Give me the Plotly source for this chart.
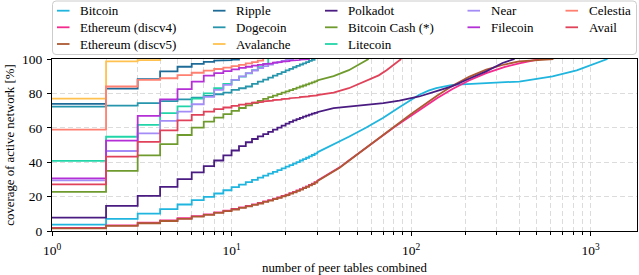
import plotly.graph_objects as go

# ---------------- data ----------------
names = ["Bitcoin", "Ethereum (discv4)", "Ethereum (discv5)", "Ripple", "Dogecoin",
         "Avalanche", "Polkadot", "Bitcoin Cash (*)", "Litecoin", "Near", "Filecoin",
         "Celestia", "Avail"]
colors = ["#1fb5de", "#f52a8e", "#ad5a33", "#1f6b98", "#2795ab", "#ffc14f", "#4a1c82",
          "#6f9b2e", "#22d5a8", "#a48cf6", "#b42fd6", "#ff7f70", "#e0425a"]
legend_columns = [[0, 1, 2], [3, 4, 5], [6, 7, 8], [9, 10], [11, 12]]

ints30 = list(range(1, 31))

bitcoin_x = ints30 + [36, 45, 56, 70, 86, 100, 111, 125, 138, 170, 211, 262, 400, 613, 836, 1025, 1240]
bitcoin_y = [3.7, 7.0, 10.1, 12.7, 15.4, 17.9, 19.8, 21.8, 23.7, 25.5, 27.0, 28.4, 29.7, 31.0,
             32.2, 33.3, 34.4, 35.4, 36.4, 37.4, 38.3, 39.2, 40.1, 41.0, 41.8, 42.6, 43.4, 44.2,
             45.0, 45.7,
             49.6, 54.8, 60.0, 65.8, 72.0, 76.5, 79.2, 81.6, 83.1, 85.0, 85.6, 86.0, 86.9, 89.9,
             93.4, 96.7, 100.0]

eth4_x = ints30 + [36, 40, 45, 50, 56, 63, 70, 80, 90, 100, 111, 140, 170, 210, 262, 330, 400,
                   450, 520]
eth4_y = [1.8, 3.3, 4.8, 6.1, 7.4, 8.6, 9.7, 10.8, 11.8, 12.8, 13.7, 14.6, 15.5, 16.3, 17.2,
          18.0, 18.8, 19.6, 20.4, 21.2, 22.0, 22.8, 23.6, 24.4, 25.2, 26.0, 26.8, 27.6, 28.4, 29.2,
          34.0, 37.0, 41.0, 44.5, 48.5, 52.5, 56.0, 60.2, 63.8, 67.0, 70.2, 77.3, 82.6, 87.5,
          91.8, 95.3, 97.5, 98.7, 100.0]

eth5_x = ints30 + [36, 40, 45, 50, 56, 63, 70, 80, 90, 100, 111, 140, 170, 210, 262, 330, 400,
                   500, 620]
eth5_y = [1.5, 3.0, 4.5, 5.8, 7.1, 8.3, 9.4, 10.5, 11.5, 12.5, 13.4, 14.3, 15.2, 16.0, 16.9,
          17.7, 18.5, 19.3, 20.1, 20.9, 21.7, 22.5, 23.3, 24.1, 24.9, 25.7, 26.5, 27.3, 28.1, 28.9,
          33.7, 36.8, 40.8, 44.4, 48.5, 52.7, 56.3, 60.8, 64.6, 68.0, 71.3, 78.8, 84.4, 89.6,
          93.8, 96.8, 98.6, 99.5, 100.0]

ripple_x = list(range(1, 12))
ripple_y = [73.9, 82.8, 88.3, 92.8, 95.5, 97.2, 98.3, 99.0, 99.4, 99.7, 100.0]

doge_x = list(range(1, 30))
doge_y = [72.3, 72.9, 74.3, 75.5, 76.5, 77.5, 78.5, 79.5, 80.5, 82.0, 83.0, 84.0, 85.5, 86.8,
          88.0, 89.2, 90.3, 91.4, 92.4, 93.4, 94.3, 95.2, 96.0, 96.8, 97.5, 98.2, 98.9, 99.5, 100.0]

avax_x = [1, 2, 3, 4]
avax_y = [77.0, 98.6, 99.4, 100.0]

dot_x = ints30 + [37, 45, 56, 70, 86, 111, 140, 170, 210, 262, 323, 377]
dot_y = [7.8, 14.6, 20.4, 25.7, 30.2, 34.1, 37.7, 41.0, 44.0, 46.8, 49.3, 51.6, 53.5, 55.0,
         56.3, 57.6, 58.9, 60.1, 61.3, 62.4, 63.4, 64.3, 65.1, 65.8, 66.5, 67.1, 67.7, 68.2,
         68.7, 69.1,
         71.4, 72.4, 73.3, 74.3, 75.8, 78.2, 81.5, 84.2, 88.5, 92.8, 97.7, 100.0]

bch_x = ints30 + [37, 45, 50, 54, 58]
bch_y = [22.8, 35.0, 44.0, 50.5, 55.8, 60.1, 63.6, 65.9, 67.9, 69.8, 71.5, 73.0, 74.4, 75.6,
         76.8, 77.8, 78.7, 79.6, 80.4, 81.2, 81.9, 82.6, 83.3, 84.0, 84.6, 85.2, 85.8, 86.4,
         87.0, 87.5,
         90.0, 93.5, 96.0, 98.0, 100.0]

ltc_x = list(range(1, 17))
ltc_y = [40.8, 54.8, 61.7, 68.5, 72.5, 77.0, 80.0, 83.0, 85.5, 87.8, 89.8, 91.7, 93.5, 95.3,
         97.2, 100.0]

near_x = list(range(1, 23))
near_y = [29.4, 46.5, 56.8, 64.0, 69.4, 73.7, 78.0, 82.1, 85.0, 87.9, 89.9, 91.8, 93.3, 94.7,
          95.8, 96.8, 97.6, 98.3, 98.9, 99.4, 99.8, 100.0]

fil_x = list(range(1, 28))
fil_y = [30.6, 52.5, 66.9, 76.5, 82.5, 86.9, 90.3, 91.8, 93.0, 94.0, 94.8, 95.5, 96.1, 96.6,
         97.1, 97.5, 97.9, 98.2, 98.5, 98.8, 99.0, 99.2, 99.4, 99.6, 99.75, 99.9, 100.0]

tia_x = list(range(1, 16))
tia_y = [58.9, 84.0, 87.9, 88.8, 90.6, 92.0, 93.2, 94.2, 95.0, 95.8, 96.6, 97.4, 98.2, 99.0,
         100.0]

avail_x = ints30 + [37, 45, 56, 66, 73, 80, 88]
avail_y = [27.1, 43.2, 51.8, 58.5, 64.3, 67.5, 69.4, 70.8, 71.8, 72.8, 73.5, 74.1, 74.6, 75.0,
           75.4, 75.8, 76.1, 76.4, 76.7, 77.0, 77.2, 77.4, 77.6, 77.8, 78.0, 78.2, 78.4, 78.6,
           78.8, 79.0,
           80.5, 83.0, 87.5, 90.5, 93.5, 96.5, 100.0]

series_x = [bitcoin_x, eth4_x, eth5_x, ripple_x, doge_x, avax_x, dot_x, bch_x, ltc_x,
            near_x, fil_x, tia_x, avail_x]
series_y = [bitcoin_y, eth4_y, eth5_y, ripple_y, doge_y, avax_y, dot_y, bch_y, ltc_y,
            near_y, fil_y, tia_y, avail_y]

x_tick_vals = [1, 10, 100, 1000]
x_tick_text = ["10<sup>0</sup>", "10<sup>1</sup>", "10<sup>2</sup>", "10<sup>3</sup>"]
y_tick_vals = [0, 20, 40, 60, 80, 100]

# ---------------- figure ----------------
FONT = "Liberation Serif, DejaVu Serif, serif"
W, H = 639, 275
ML, MR, MT, MB = 52, 2, 59, 44
PW, PH = W - ML - MR, H - MT - MB


def step_path(xs, ys):
    """post-step between consecutive integer counts, straight segment otherwise"""
    px, py = [xs[0]], [ys[0]]
    for i in range(1, len(xs)):
        if xs[i] - xs[i - 1] == 1:
            px.append(xs[i]); py.append(ys[i - 1])
        px.append(xs[i]); py.append(ys[i])
    return px, py


fig = go.Figure()
for name, col, xs, ys in zip(names, colors, series_x, series_y):
    px, py = step_path(xs, ys)
    fig.add_trace(go.Scatter(x=px, y=py, mode="lines", name=name,
                             line=dict(color=col, width=1.8), showlegend=False))

grid_col = "#dcdcdc"
minor_vals = [k * 10 ** e for e in range(0, 4) for k in range(2, 10)]

fig.update_layout(
    width=W, height=H,
    margin=dict(l=ML, r=MR, t=MT, b=MB, pad=0),
    paper_bgcolor="white", plot_bgcolor="white",
    font=dict(family=FONT, size=13, color="black"),
    xaxis=dict(
        type="log", range=[0, 3.258],
        tickmode="array", tickvals=x_tick_vals, ticktext=x_tick_text,
        ticks="outside", ticklen=4, tickwidth=1, tickcolor="black",
        ticklabelstandoff=3,
        showline=True, linecolor="black", linewidth=1.3, mirror=True,
        showgrid=True, gridcolor=grid_col, griddash="5px,3px", gridwidth=1,
        minor=dict(tickvals=minor_vals, ticks="outside", ticklen=2.5, tickcolor="black",
                   showgrid=True, gridcolor=grid_col, griddash="5px,3px", gridwidth=1),
        tickfont=dict(family=FONT, size=13.5),
        title=dict(text="number of peer tables combined", font=dict(family=FONT, size=12.8),
                   standoff=5),
        zeroline=False,
    ),
    yaxis=dict(
        range=[0, 100], tickmode="array", tickvals=y_tick_vals,
        ticks="outside", ticklen=4, tickwidth=1, tickcolor="black",
        ticklabelstandoff=2,
        showline=True, linecolor="black", linewidth=1.3, mirror=True,
        showgrid=True, gridcolor=grid_col, griddash="5px,3px", gridwidth=1,
        tickfont=dict(family=FONT, size=13.5),
        title=dict(text="coverage of active network [%]", font=dict(family=FONT, size=12.8),
                   standoff=4),
        zeroline=False,
    ),
    showlegend=False,
)


def pxx(x):
    return (x - ML) / PW


def pxy(y):
    return (H - MB - y) / PH


# legend drawn as a matplotlib-style box with rounded corners (column-major, 3/3/3/2/2)
bx0, bx1, by0, by1, rad = 52.5, 636.5, 1.0, 54.5, 3.5
path = (f"M {pxx(bx0 + rad)},{pxy(by0)} L {pxx(bx1 - rad)},{pxy(by0)} "
        f"Q {pxx(bx1)},{pxy(by0)} {pxx(bx1)},{pxy(by0 + rad)} "
        f"L {pxx(bx1)},{pxy(by1 - rad)} Q {pxx(bx1)},{pxy(by1)} {pxx(bx1 - rad)},{pxy(by1)} "
        f"L {pxx(bx0 + rad)},{pxy(by1)} Q {pxx(bx0)},{pxy(by1)} {pxx(bx0)},{pxy(by1 - rad)} "
        f"L {pxx(bx0)},{pxy(by0 + rad)} Q {pxx(bx0)},{pxy(by0)} {pxx(bx0 + rad)},{pxy(by0)} Z")
fig.add_shape(type="path", xref="paper", yref="paper", path=path,
              line=dict(color="#cccccc", width=1), fillcolor="rgba(255,255,255,0.8)",
              layer="above")
col_swatch_x = [57, 213, 325, 467.5, 565.5]
row_y = [10.7, 27.3, 44.0]
for c, members in enumerate(legend_columns):
    for r, idx in enumerate(members):
        sx = col_swatch_x[c]
        yy = row_y[r]
        fig.add_shape(type="line", xref="paper", yref="paper",
                      x0=pxx(sx), x1=pxx(sx + 12.5), y0=pxy(yy), y1=pxy(yy),
                      line=dict(color=colors[idx], width=1.8), layer="above")
        fig.add_annotation(xref="paper", yref="paper", x=pxx(sx + 21), y=pxy(yy),
                           text=names[idx], showarrow=False, xanchor="left",
                           yanchor="middle",
                           font=dict(family=FONT, size=13, color="black"))

fig.write_html("out.html", config={"displayModeBar": False},
               post_script="document.body.style.margin='0';")
